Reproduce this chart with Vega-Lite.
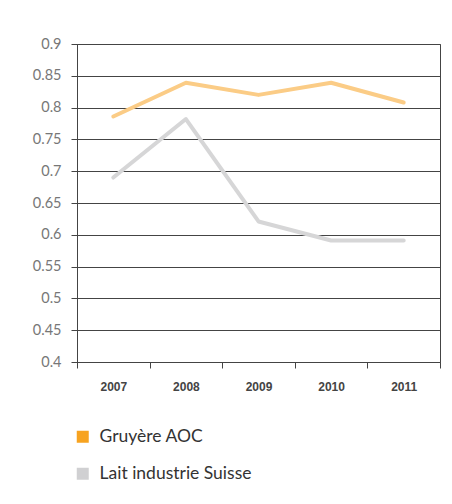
{
  "$schema": "https://vega.github.io/schema/vega-lite/v6.json",
  "width": 363,
  "height": 318,
  "autosize": "none",
  "padding": {"left": 77, "top": 44, "right": 12, "bottom": 142},
  "config": {
    "view": {"stroke": "#444", "strokeWidth": 1},
    "font": "Lato",
    "axis": {"domainColor": "#444", "tickColor": "#444", "gridColor": "#444", "gridOpacity": 1, "gridWidth": 1, "tickSize": 6}
  },
  "data": {
    "values": [
      {"year": "2007", "series": "Gruyère AOC", "value": 0.786},
      {"year": "2008", "series": "Gruyère AOC", "value": 0.839},
      {"year": "2009", "series": "Gruyère AOC", "value": 0.820},
      {"year": "2010", "series": "Gruyère AOC", "value": 0.839},
      {"year": "2011", "series": "Gruyère AOC", "value": 0.808},
      {"year": "2007", "series": "Lait industrie Suisse", "value": 0.690},
      {"year": "2008", "series": "Lait industrie Suisse", "value": 0.782},
      {"year": "2009", "series": "Lait industrie Suisse", "value": 0.621},
      {"year": "2010", "series": "Lait industrie Suisse", "value": 0.591},
      {"year": "2011", "series": "Lait industrie Suisse", "value": 0.591}
    ]
  },
  "mark": {"type": "line", "strokeWidth": 4, "strokeCap": "round", "strokeJoin": "round"},
  "encoding": {
    "x": {
      "field": "year", "type": "ordinal", "bandPosition": 0.5,
      "scale": {"type": "band", "paddingInner": 0, "paddingOuter": 0},
      "axis": {"title": null, "labelAngle": 0, "tickBand": "extent", "grid": false, "labelFontSize": 12, "labelFontWeight": "bold", "labelColor": "#444", "labelPadding": 13, "labelFont": "Liberation Sans"}
    },
    "y": {
      "field": "value", "type": "quantitative",
      "scale": {"domain": [0.4, 0.9], "nice": false, "zero": false},
      "axis": {"title": null, "values": [0.4, 0.45, 0.5, 0.55, 0.6, 0.65, 0.7, 0.75, 0.8, 0.85, 0.9], "format": "~g", "labelFontSize": 14.5, "labelColor": "#777", "labelPadding": 10}
    },
    "color": {
      "field": "series", "type": "nominal",
      "scale": {"domain": ["Gruyère AOC", "Lait industrie Suisse"], "range": ["#FBCC86", "#D6D6D7"]},
      "legend": {
        "title": null, "orient": "none", "legendX": -3, "legendY": 384,
        "symbolType": "square", "symbolSize": 144, "symbolOpacity": 1,
        "labelFontSize": 17.5, "labelColor": "#333", "labelOffset": 8, "rowPadding": 18,
        "encode": {"symbols": {"update": {"fill": {"signal": "datum.value === 'Gruyère AOC' ? '#F7A320' : '#D0D0D2'"}, "fillOpacity": {"value": 1}, "strokeWidth": {"value": 0}, "opacity": {"value": 1}}}}
      }
    }
  }
}
